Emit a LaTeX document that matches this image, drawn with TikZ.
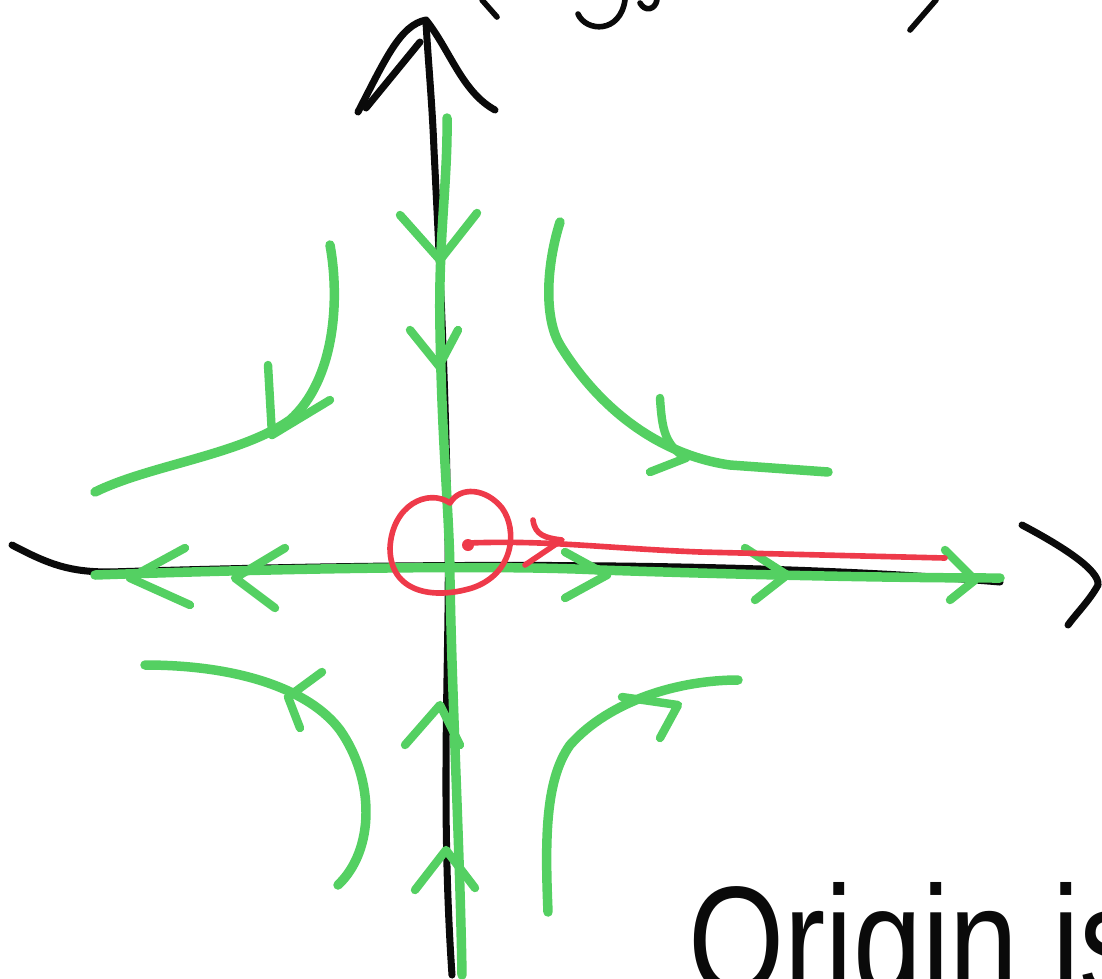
\documentclass[tikz,border=0pt]{standalone}
\usepackage{fontspec}
\setmainfont{Liberation Sans}
\usepackage{xcolor}
\definecolor{phasegreen}{RGB}{84,208,98}
\definecolor{penred}{RGB}{238,58,74}
\definecolor{penblack}{RGB}{10,10,10}
\usetikzlibrary{calc}
\tikzset{
  axisline/.style={draw=penblack,line width=4pt,line cap=round,line join=round},
  orbit/.style   ={draw=phasegreen,line width=5.4pt,line cap=round,line join=round},
  chevron/.style ={draw=phasegreen,line width=4.8pt,line cap=round,line join=round},
  redpen/.style  ={draw=penred,line width=3.2pt,line cap=round,line join=round},
  scrawl/.style  ={font=\fontsize{88}{90}\selectfont,text=penblack,inner sep=0pt},
}

\begin{document}
\begin{tikzpicture}[x=0.02cm,y=-0.02cm]
  \useasboundingbox (0,0) rectangle (1102,978);
  % cut-off writing at the top edge
  \draw[axisline,line width=3.2pt] (482,0) -- (497,17);
  \draw[axisline,line width=3.2pt] (578,14) .. controls (586,32) and (620,34) .. (625,0);
  \draw[axisline,line width=3.2pt] (640,3) .. controls (645,12) and (655,10) .. (657,0);
  \draw[axisline,line width=3.2pt] (936,0) -- (910,30);
  % axes
  \draw[axisline] (452,975) .. controls (440,800) and (450,650) .. (448,540)
                  .. controls (446,380) and (438,230) .. (434,150)
                  .. controls (432,100) and (428,60) .. (426,22);
  \draw[axisline] (358,112) .. controls (385,60) and (400,25) .. (426,20)
                  .. controls (450,50) and (462,92) .. (495,110);
  \draw[axisline] (366,108) -- (420,42);
  \draw[axisline] (12,545) .. controls (50,565) and (70,572) .. (110,572)
                  .. controls (500,560) and (800,565) .. (1000,582);
  \draw[axisline] (1022,525) .. controls (1060,545) and (1100,570) .. (1098,585)
                  .. controls (1090,600) and (1075,615) .. (1068,625);
  % stable manifold
  \draw[orbit] (447,118) .. controls (448,180) and (438,240) .. (440,330)
               .. controls (442,450) and (450,520) .. (450,580)
               .. controls (452,700) and (460,850) .. (462,975);
  \draw[chevron] (400,215) -- (440,260) -- (477,213);
  \draw[chevron] (410,330) -- (439,366) -- (458,330);
  \draw[chevron] (405,745) -- (440,705) -- (460,745);
  \draw[chevron] (415,890) -- (446,850) -- (475,888);
  % unstable manifold
  \draw[orbit] (95,575) .. controls (300,568) and (500,565) .. (600,570)
               .. controls (750,575) and (900,578) .. (1000,578);
  \draw[chevron] (185,548) -- (130,578) -- (190,605);
  \draw[chevron] (285,548) -- (235,578) -- (275,608);
  \draw[chevron] (565,552) -- (607,575) -- (565,598);
  \draw[chevron] (745,548) -- (787,575) -- (755,600);
  \draw[chevron] (945,550) -- (975,580) -- (950,600);
  % hyperbolic orbits
  \draw[orbit] (330,245) .. controls (340,300) and (335,380) .. (290,420)
               .. controls (240,455) and (150,465) .. (95,492);
  \draw[chevron] (268,365) -- (272,435) -- (330,400);
  \draw[orbit] (560,222) .. controls (545,270) and (545,320) .. (560,345)
               .. controls (600,410) and (660,455) .. (730,465) -- (828,472);
  \draw[chevron] (660,398) .. controls (662,430) and (665,445) .. (686,458) -- (650,472);
  \draw[orbit] (145,665) .. controls (240,665) and (310,690) .. (340,730)
               .. controls (375,780) and (375,850) .. (338,885);
  \draw[chevron] (322,672) -- (288,697) -- (300,728);
  \draw[orbit] (548,912) .. controls (545,840) and (545,780) .. (570,745)
               .. controls (610,700) and (680,680) .. (738,680);
  \draw[chevron] (622,697) -- (678,705) -- (660,738);
  % red marking at the origin
  \draw[redpen] (450,503) .. controls (428,488) and (392,505) .. (390,548)
                .. controls (390,592) and (432,600) .. (472,588)
                .. controls (514,574) and (518,530) .. (502,508)
                .. controls (486,488) and (460,486) .. (450,503);
  \fill[penred] (468,545) circle (6);
  \draw[redpen] (468,543) .. controls (550,540) and (600,548) .. (700,552) -- (945,558);
  \draw[redpen] (533,520) .. controls (535,535) and (545,538) .. (562,540) -- (525,565);
  % label
  \node[scrawl,anchor=base west] (origin) at (688,994) {\scalebox{0.8}[1]{Origin is}};
\end{tikzpicture}
\end{document}
